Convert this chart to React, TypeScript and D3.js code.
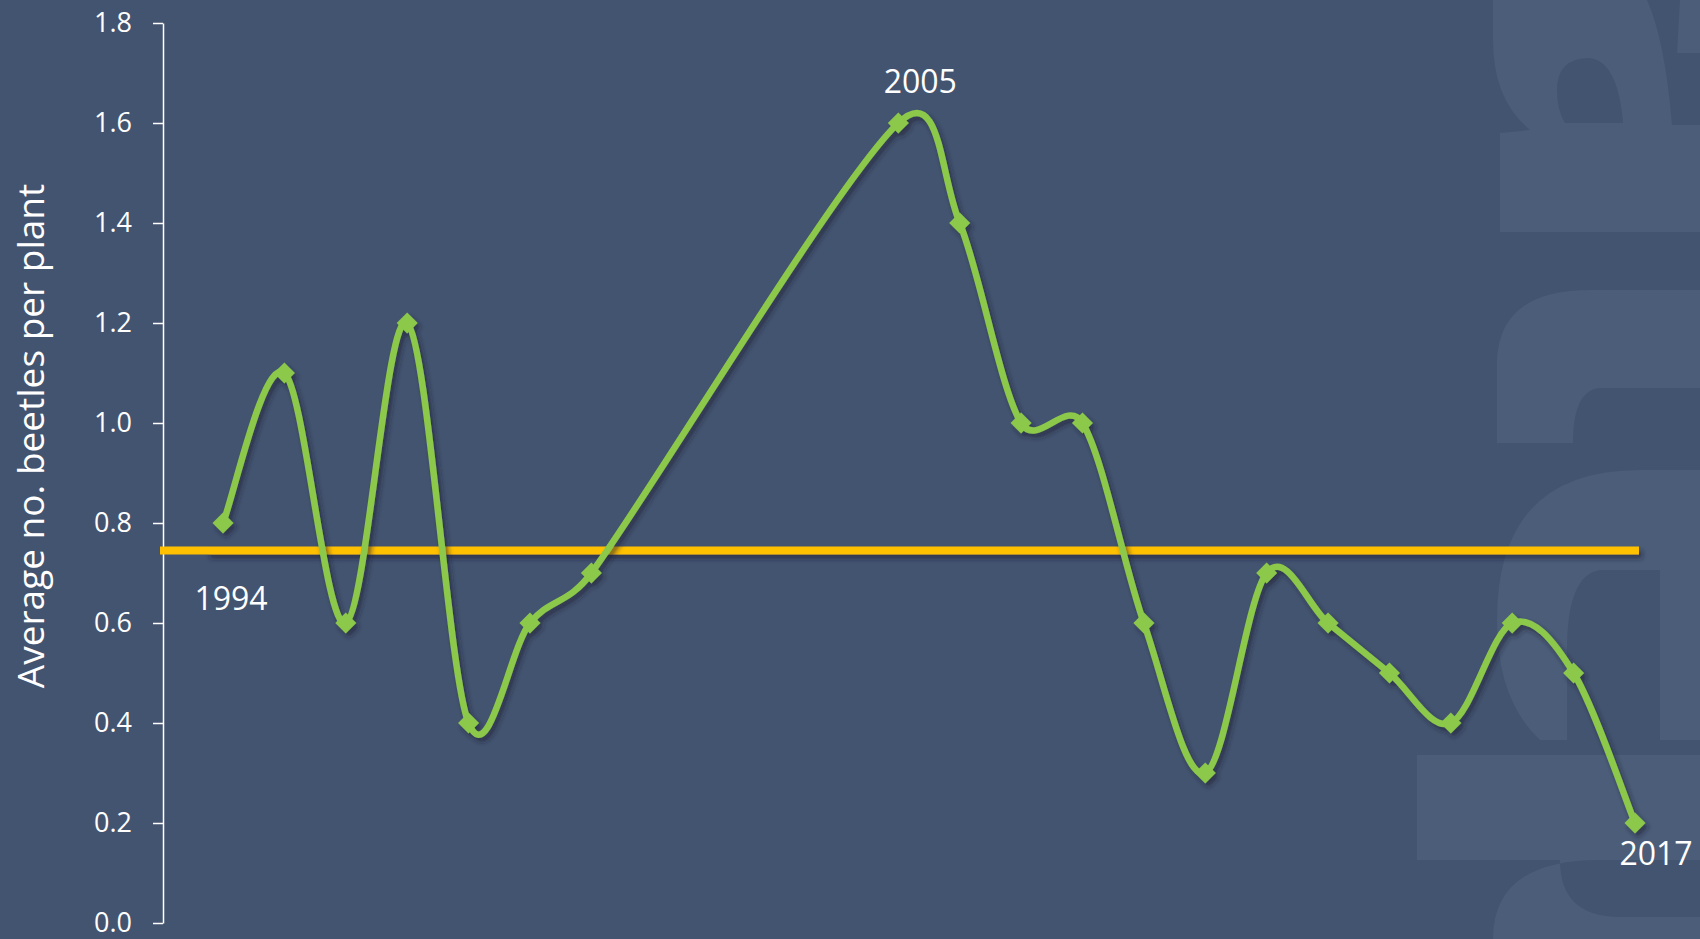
import { useEffect, useRef } from "react"
import * as d3 from "d3"

// survey years (no data 2001-2004) and average beetles per plant
const years = [
  1994, 1995, 1996, 1997, 1998, 1999, 2000, 2005, 2006, 2007, 2008, 2009,
  2010, 2011, 2012, 2013, 2014, 2015, 2016, 2017,
]
const beetles = [
  0.8, 1.1, 0.6, 1.2, 0.4, 0.6, 0.7, 1.6, 1.4, 1.0, 1.0, 0.6, 0.3, 0.7, 0.6,
  0.5, 0.4, 0.6, 0.5, 0.2,
]
const yTicks = [0, 0.2, 0.4, 0.6, 0.8, 1.0, 1.2, 1.4, 1.6, 1.8]
const averageLevel = 0.745
const labelledYears = [1994, 2005, 2017]

const W = 1700
const H = 939
const BG = "#435470"
const GREEN = "#8cc94b"
const YELLOW = "#ffc000"

// faint background lettering on the right edge of the slide
const watermark =
  "M1493,0 V40 Q1493,100 1530,130 L1500,133 V232 H1700 V0 Z " +
  "M1557,90 Q1557,58 1590,58 Q1618,62 1623,123 H1565 Q1557,110 1557,90 Z " +
  "M1647,0 H1680 L1677,53 H1700 V125 H1672 Q1665,40 1647,0 Z " +
  "M1497,443 V360 Q1500,290 1590,290 H1700 V388 H1600 Q1573,390 1573,443 Z " +
  "M1497,620 Q1497,470 1640,470 H1700 V740 H1660 V570 H1600 Q1567,575 1567,650 V740 H1540 Q1497,700 1497,620 Z " +
  "M1417,755 H1700 V860 H1417 Z " +
  "M1493,939 Q1493,860 1600,860 H1560 Q1560,917 1620,917 H1700 V939 Z"

// Excel-like smoothed line: Catmull-Rom tangents, control arms clamped to
// half of the segment they belong to
function smoothPath(pts: [number, number][]) {
  const p = d3.path()
  p.moveTo(pts[0][0], pts[0][1])
  const arm = (a: [number, number], b: [number, number], maxLen: number) => {
    let dx = (b[0] - a[0]) / 6
    let dy = (b[1] - a[1]) / 6
    const len = Math.hypot(dx, dy)
    if (len > maxLen && len > 0) {
      dx = (dx / len) * maxLen
      dy = (dy / len) * maxLen
    }
    return [dx, dy]
  }
  for (let i = 0; i < pts.length - 1; i++) {
    const p0 = pts[i - 1] ?? pts[i]
    const p1 = pts[i]
    const p2 = pts[i + 1]
    const p3 = pts[i + 2] ?? pts[i + 1]
    const seg = Math.hypot(p2[0] - p1[0], p2[1] - p1[1]) * 0.5
    const [ax, ay] = arm(p0, p2, seg)
    const [bx, by] = arm(p1, p3, seg)
    p.bezierCurveTo(p1[0] + ax, p1[1] + ay, p2[0] - bx, p2[1] - by, p2[0], p2[1])
  }
  return p.toString()
}

export default function App() {
  const axisRef = useRef<SVGGElement>(null)

  const x = d3.scaleLinear().domain([1994, 2017]).range([223, 1635])
  const y = d3.scaleLinear().domain([0, 1.8]).range([923, 23])
  const axisX = 163

  useEffect(() => {
    if (!axisRef.current) return
    const g = d3.select(axisRef.current)
    g.selectAll("*").remove()
    g.call(
      d3
        .axisLeft(y)
        .tickValues(yTicks)
        .tickFormat(d3.format(".1f"))
        .tickSize(10)
        .tickSizeOuter(0)
        .tickPadding(21)
    )
    g.select(".domain").attr("stroke", "#ffffff").attr("stroke-width", 1.5)
    g.selectAll(".tick line").attr("stroke", "#ffffff").attr("stroke-width", 1.5)
    g.selectAll(".tick text")
      .attr("fill", "#ffffff")
      .style("font-family", "'Open Sans', sans-serif")
      .style("font-size", "27px")
  }, [])

  const points = years.map((yr, i) => [x(yr), y(beetles[i])] as [number, number])
  const line = smoothPath(points)
  const diamond = d3.symbol().type(d3.symbolSquare).size(220)() || ""

  const labelOffset: Record<number, [number, number]> = {
    1994: [8, 87],
    2005: [22, -30],
    2017: [21, 42],
  }

  const avgY = y(averageLevel)
  const avgSplit = x(1994) - 16

  return (
    <svg
      width={W}
      height={H}
      style={{ position: "absolute", left: 0, top: 0, display: "block" }}
      fontFamily="'Open Sans', sans-serif"
    >
      <defs>
        <filter id="shadow" filterUnits="userSpaceOnUse" x={0} y={0} width={W} height={H}>
          <feDropShadow dx="3" dy="4" stdDeviation="2.5" floodColor="#1b2436" floodOpacity="0.6" />
        </filter>
      </defs>
      <rect width={W} height={H} fill={BG} />
      <path d={watermark} fill="#4b5d78" fillRule="evenodd" />

      <g ref={axisRef} transform={`translate(${axisX},0)`} />

      <text
        transform={`translate(29,${(y(0) + y(1.8)) / 2 - 37}) rotate(-90)`}
        textAnchor="middle"
        dominantBaseline="central"
        fill="#ffffff"
        fontSize={37}
      >
        Average no. beetles per plant
      </text>

      <line
        x1={avgSplit}
        x2={x(2017) + 4}
        y1={avgY}
        y2={avgY}
        stroke={YELLOW}
        strokeWidth={8}
        filter="url(#shadow)"
      />
      <line x1={axisX - 3} x2={avgSplit} y1={avgY} y2={avgY} stroke={YELLOW} strokeWidth={8} />

      <g filter="url(#shadow)">
        <path d={line} fill="none" stroke={GREEN} strokeWidth={6.5} />
        {points.map(([px, py], i) => (
          <path
            key={years[i]}
            d={diamond}
            transform={`translate(${px},${py}) rotate(45)`}
            fill={GREEN}
          />
        ))}
      </g>

      {labelledYears.map((yr) => {
        const i = years.indexOf(yr)
        const [dx, dy] = labelOffset[yr]
        return (
          <text
            key={yr}
            x={x(yr) + dx}
            y={y(beetles[i]) + dy}
            textAnchor="middle"
            fill="#ffffff"
            fontSize={32}
          >
            {yr}
          </text>
        )
      })}
    </svg>
  )
}
